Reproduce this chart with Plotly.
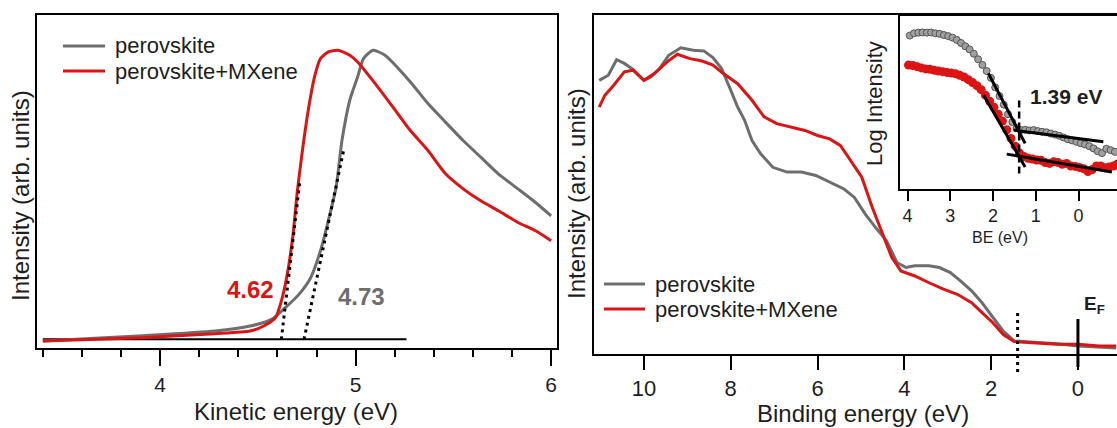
import plotly.graph_objects as go

# ---------------- Left panel: secondary electron cut-off ----------------
ke_perov = [3.40, 3.91, 4.28, 4.46, 4.57, 4.64, 4.71, 4.77, 4.82, 4.86, 4.90, 4.93, 4.97, 5.01,
            5.04, 5.09, 5.15, 5.28, 5.37, 5.46, 5.55, 5.64, 5.73, 5.83, 5.92, 6.00]
int_perov = [0.021, 0.037, 0.051, 0.066, 0.086, 0.121, 0.161, 0.211, 0.292, 0.382, 0.483, 0.623,
             0.744, 0.814, 0.869, 0.894, 0.879, 0.799, 0.734, 0.678, 0.623, 0.573, 0.523, 0.478,
             0.437, 0.397]
ke_mx = [3.40, 3.91, 4.28, 4.46, 4.53, 4.59, 4.62, 4.65, 4.68, 4.70, 4.73, 4.76, 4.79, 4.82, 4.86,
         4.91, 4.97, 5.01, 5.10, 5.19, 5.28, 5.37, 5.46, 5.55, 5.64, 5.73, 5.83, 5.92, 6.00]
int_mx = [0.021, 0.031, 0.043, 0.051, 0.066, 0.091, 0.141, 0.221, 0.342, 0.462, 0.603, 0.723, 0.815,
          0.869, 0.889, 0.894, 0.879, 0.859, 0.794, 0.724, 0.653, 0.593, 0.523, 0.478, 0.442, 0.412,
          0.377, 0.352, 0.322]
base_x = [3.40, 5.26]
base_y = [0.026, 0.026]
tan_mx_x = [4.62, 4.714]
tan_mx_y = [0.026, 0.498]
tan_perov_x = [4.736, 4.94]
tan_perov_y = [0.026, 0.598]
cutoff_labels = ["4.62", "4.73"]

# ---------------- Right panel: valence band ----------------
be_perov = [11.03, 10.82, 10.63, 10.45, 10.25, 10.00, 9.84, 9.64, 9.43, 9.15, 8.86, 8.62, 8.41, 8.21,
            8.00, 7.84, 7.68, 7.51, 7.31, 7.03, 6.70, 6.37, 6.04, 5.72, 5.39, 5.15, 4.90, 4.66, 4.41,
            4.17, 3.96, 3.76, 3.43, 3.19, 2.94, 2.70, 2.45, 2.21, 1.96, 1.72, 1.47, 1.14, 0.49, 0.00,
            -0.49, -0.88]
vb_perov = [0.807, 0.822, 0.868, 0.857, 0.839, 0.807, 0.817, 0.842, 0.881, 0.903, 0.896, 0.894, 0.874,
            0.842, 0.778, 0.728, 0.689, 0.629, 0.590, 0.550, 0.536, 0.536, 0.526, 0.506, 0.486, 0.461,
            0.412, 0.372, 0.333, 0.269, 0.254, 0.259, 0.259, 0.254, 0.239, 0.214, 0.185, 0.150, 0.106,
            0.066, 0.037, 0.034, 0.029, 0.022, 0.019, 0.016]
be_mx = [11.03, 10.90, 10.70, 10.45, 10.25, 10.00, 9.76, 9.47, 9.23, 8.94, 8.66, 8.41, 8.17, 7.84,
         7.51, 7.23, 6.94, 6.62, 6.29, 6.00, 5.72, 5.47, 5.23, 4.98, 4.74, 4.49, 4.29, 4.08, 3.76,
         3.43, 3.10, 2.78, 2.45, 2.21, 1.96, 1.72, 1.47, 1.06, 0.49, 0.00, -0.49, -0.88]
vb_mx = [0.728, 0.763, 0.792, 0.832, 0.837, 0.807, 0.827, 0.861, 0.884, 0.871, 0.864, 0.852, 0.827,
         0.797, 0.748, 0.699, 0.679, 0.669, 0.659, 0.644, 0.634, 0.614, 0.570, 0.521, 0.432, 0.353,
         0.284, 0.244, 0.229, 0.209, 0.190, 0.175, 0.150, 0.121, 0.091, 0.056, 0.035, 0.032, 0.027,
         0.027, 0.022, 0.022]
vbm_value = 1.39
fermi_value = 0.0

# ---------------- Inset: log intensity near the VBM ----------------
ins_be_perov = [3.95, 3.85, 3.75, 3.65, 3.55, 3.45, 3.35, 3.25, 3.15, 3.05, 2.95, 2.85, 2.75, 2.65,
                2.55, 2.45, 2.35, 2.25, 2.15, 2.05, 1.95, 1.85, 1.75, 1.65, 1.55, 1.45, 1.35, 1.25,
                1.15, 1.05, 0.95, 0.85, 0.75, 0.65, 0.55, 0.45, 0.35, 0.25, 0.15, 0.05, -0.05, -0.15,
                -0.25, -0.35, -0.45, -0.55, -0.65, -0.75, -0.85]
ins_log_perov = [0.885, 0.898, 0.902, 0.903, 0.902, 0.903, 0.898, 0.895, 0.888, 0.882, 0.873, 0.860,
                 0.842, 0.823, 0.805, 0.780, 0.748, 0.715, 0.680, 0.640, 0.585, 0.535, 0.485, 0.430,
                 0.385, 0.350, 0.338, 0.340, 0.336, 0.338, 0.332, 0.328, 0.325, 0.318, 0.312, 0.305,
                 0.295, 0.285, 0.278, 0.270, 0.262, 0.255, 0.245, 0.232, 0.215, 0.205, 0.230, 0.222,
                 0.212]
ins_be_mx = [3.98, 3.88, 3.78, 3.68, 3.58, 3.48, 3.38, 3.28, 3.18, 3.08, 2.98, 2.88, 2.78, 2.68, 2.58,
             2.48, 2.38, 2.28, 2.18, 2.08, 1.98, 1.88, 1.78, 1.68, 1.58, 1.48, 1.38, 1.28, 1.18, 1.08,
             0.98, 0.88, 0.78, 0.68, 0.58, 0.48, 0.38, 0.28, 0.18, 0.08, -0.02, -0.12, -0.22, -0.32,
             -0.42, -0.52, -0.62, -0.72, -0.82, -0.90]
ins_log_mx = [0.714, 0.712, 0.705, 0.698, 0.692, 0.690, 0.685, 0.680, 0.676, 0.672, 0.668, 0.664,
              0.655, 0.645, 0.630, 0.613, 0.595, 0.572, 0.540, 0.505, 0.470, 0.430, 0.390, 0.340,
              0.290, 0.245, 0.205, 0.185, 0.175, 0.170, 0.165, 0.163, 0.150, 0.145, 0.155, 0.150,
              0.140, 0.145, 0.130, 0.128, 0.122, 0.115, 0.098, 0.110, 0.130, 0.130, 0.120, 0.125,
              0.130, 0.140]
fit_perov_steep_x = [2.11, 1.25]
fit_perov_steep_y = [0.666, 0.261]
fit_perov_flat_x = [1.52, -0.58]
fit_perov_flat_y = [0.338, 0.270]
fit_mx_steep_x = [2.22, 1.25]
fit_mx_steep_y = [0.540, 0.125]
fit_mx_flat_x = [1.68, -0.78]
fit_mx_flat_y = [0.199, 0.096]

series_names = ["perovskite", "perovskite+MXene"]

GRAY = "#6e6e6e"
RED = "#dc1414"
TXT = "#1e1e1e"
FONT = "Liberation Sans, Arial, sans-serif"
W, H = 1117, 428


def px(x):
    return x / W


def py(y):
    return 1 - y / H


fig = go.Figure()

# left panel traces
fig.add_trace(go.Scatter(x=base_x, y=base_y, mode="lines", line=dict(color="black", width=2),
                         xaxis="x", yaxis="y", showlegend=False, hoverinfo="skip"))
fig.add_trace(go.Scatter(x=ke_perov, y=int_perov, mode="lines", name=series_names[0],
                         line=dict(color=GRAY, width=3, shape="spline", smoothing=0.6),
                         xaxis="x", yaxis="y", showlegend=False))
fig.add_trace(go.Scatter(x=ke_mx, y=int_mx, mode="lines", name=series_names[1],
                         line=dict(color=RED, width=3, shape="spline", smoothing=0.6),
                         xaxis="x", yaxis="y", showlegend=False))
fig.add_trace(go.Scatter(x=tan_mx_x, y=tan_mx_y, mode="lines",
                         line=dict(color="black", width=3, dash="3px,4px"),
                         xaxis="x", yaxis="y", showlegend=False, hoverinfo="skip"))
fig.add_trace(go.Scatter(x=tan_perov_x, y=tan_perov_y, mode="lines",
                         line=dict(color="black", width=3, dash="3px,4px"),
                         xaxis="x", yaxis="y", showlegend=False, hoverinfo="skip"))

# right panel traces
fig.add_trace(go.Scatter(x=be_perov, y=vb_perov, mode="lines", name=series_names[0],
                         line=dict(color=GRAY, width=3), xaxis="x2", yaxis="y2", showlegend=False))
fig.add_trace(go.Scatter(x=be_mx, y=vb_mx, mode="lines", name=series_names[1],
                         line=dict(color=RED, width=3), xaxis="x2", yaxis="y2", showlegend=False))

# inset traces
fig.add_trace(go.Scatter(x=ins_be_mx, y=ins_log_mx, mode="markers", name=series_names[1],
                         marker=dict(color=RED, size=9, line=dict(width=0)),
                         xaxis="x3", yaxis="y3", showlegend=False))
fig.add_trace(go.Scatter(x=ins_be_perov, y=ins_log_perov, mode="markers", name=series_names[0],
                         marker=dict(color="#a0a0a0", size=7, line=dict(color="#555555", width=1)),
                         xaxis="x3", yaxis="y3", showlegend=False))
for fx, fy in [(fit_perov_steep_x, fit_perov_steep_y), (fit_perov_flat_x, fit_perov_flat_y),
               (fit_mx_steep_x, fit_mx_steep_y), (fit_mx_flat_x, fit_mx_flat_y)]:
    fig.add_trace(go.Scatter(x=fx, y=fy, mode="lines", line=dict(color="black", width=3),
                             xaxis="x3", yaxis="y3", showlegend=False, hoverinfo="skip"))

fig.update_layout(
    width=W, height=H,
    margin=dict(l=0, r=0, t=0, b=0),
    paper_bgcolor="white", plot_bgcolor="white",
    font=dict(family=FONT, color=TXT),
    xaxis=dict(domain=[px(37), px(557)], range=[3.37, 6.03], anchor="y",
               showline=True, linecolor="black", linewidth=2, mirror=True,
               showgrid=False, zeroline=False, ticks="outside", ticklen=16, tickwidth=2,
               tickcolor="black", tickvals=[4, 5, 6],
               tickfont=dict(family=FONT, size=21, color=TXT), ticklabelstandoff=1,
               minor=dict(ticks="outside", ticklen=7, tickwidth=2, tickcolor="black",
                          dtick=0.2, tick0=0, showgrid=False)),
    yaxis=dict(domain=[py(348), py(15)], range=[0, 1], anchor="x",
               showline=True, linecolor="black", linewidth=2, mirror=True,
               showgrid=False, zeroline=False, showticklabels=False, ticks=""),
    xaxis2=dict(domain=[px(594), 1.0], range=[11.15, -0.9], anchor="y2",
                showline=True, linecolor="black", linewidth=2, mirror=True,
                showgrid=False, zeroline=False, ticks="outside", ticklen=14, tickwidth=2,
                tickcolor="black", tickvals=[0, 2, 4, 6, 8, 10],
                tickfont=dict(family=FONT, size=22, color=TXT), ticklabelstandoff=0),
    yaxis2=dict(domain=[py(353.5), py(15)], range=[0, 1], anchor="x2",
                showline=True, linecolor="black", linewidth=2, mirror=False,
                showgrid=False, zeroline=False, showticklabels=False, ticks=""),
    xaxis3=dict(domain=[px(899.5), 1.0], range=[4.19, -0.9], anchor="y3",
                showline=True, linecolor="black", linewidth=2, mirror=True,
                showgrid=False, zeroline=False, ticks="outside", ticklen=10, tickwidth=2,
                tickcolor="black", tickvals=[0, 1, 2, 3, 4],
                tickfont=dict(family=FONT, size=18, color=TXT), ticklabelstandoff=0),
    yaxis3=dict(domain=[py(188.5), py(15.7)], range=[0, 1], anchor="x3",
                showline=True, linecolor="black", linewidth=2, mirror=False,
                showgrid=False, zeroline=False, showticklabels=False, ticks=""),
)

shapes = []
# legend swatches (left and right panels)
for (x0, x1, yy, col) in [(63, 105, 46, GRAY), (63, 105, 71, RED),
                          (604, 645, 284, GRAY), (604, 645, 309, RED)]:
    shapes.append(dict(type="line", xref="paper", yref="paper", x0=px(x0), x1=px(x1),
                       y0=py(yy), y1=py(yy), line=dict(color=col, width=3)))
# VBM dotted marker and Fermi level on the right panel
shapes.append(dict(type="line", xref="x2", yref="y2 domain", x0=vbm_value, x1=vbm_value,
                   y0=-0.055, y1=0.12, line=dict(color="black", width=3, dash="3px,4px")))
shapes.append(dict(type="line", xref="x2", yref="y2 domain", x0=fermi_value, x1=fermi_value,
                   y0=-0.04, y1=0.102, line=dict(color="black", width=3)))
# inset dashed VBM line
shapes.append(dict(type="line", xref="x3", yref="y3", x0=vbm_value, x1=vbm_value,
                   y0=0.087, y1=0.531, line=dict(color="black", width=2.5, dash="7px,4px")))
fig.update_layout(shapes=shapes)

ann = []


def add_text(x, y, text, font, xanchor="center", yanchor="middle", angle=0):
    ann.append(dict(x=px(x), y=py(y), xref="paper", yref="paper", text=text, showarrow=False,
                    xanchor=xanchor, yanchor=yanchor, textangle=angle, font=font))


leg_font = dict(family=FONT, size=22, color=TXT)
for (xx, yy, t) in [(113, 46, series_names[0]), (113, 71, series_names[1]),
                    (653, 284, series_names[0]), (653, 309, series_names[1])]:
    add_text(xx, yy, t, leg_font, xanchor="left")
add_text(250, 289, "<b>" + cutoff_labels[0] + "</b>", dict(family=FONT, size=24, color=RED))
add_text(361, 296, "<b>" + cutoff_labels[1] + "</b>", dict(family=FONT, size=24, color=GRAY))
add_text(1066, 97, "<b>%.2f eV</b>" % vbm_value, dict(family=FONT, size=21, color=TXT))
add_text(1082, 305, "<b>E<sub>F</sub></b>", dict(family=FONT, size=19, color=TXT), xanchor="left")
# axis titles
title_font = dict(family=FONT, size=24, color=TXT)
add_text(296, 411, "Kinetic energy (eV)", title_font)
add_text(21, 196, "Intensity (arb. units)", title_font, angle=-90)
add_text(863, 413, "Binding energy (eV)", title_font)
add_text(576, 194, "Intensity (arb. units)", title_font, angle=-90)
add_text(1000, 237, "BE (eV)", dict(family=FONT, size=16, color=TXT))
add_text(874, 104, "Log Intensity", dict(family=FONT, size=22, color=TXT), angle=-90)
fig.update_layout(annotations=ann)

fig.write_html("out.html")
